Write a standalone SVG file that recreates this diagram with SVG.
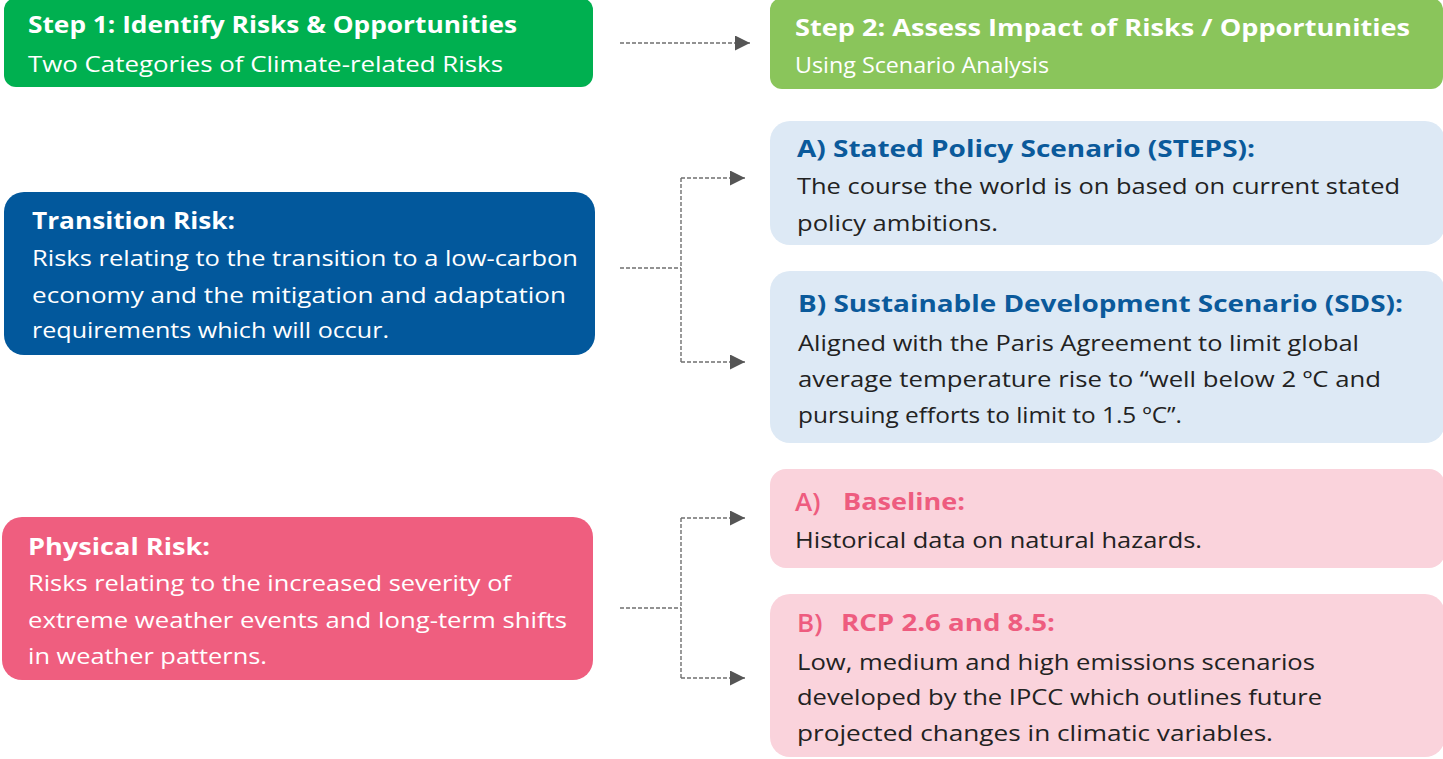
<svg xmlns="http://www.w3.org/2000/svg" width="1443" height="759" viewBox="0 0 1443 759">
<defs>
<style>
.t{font-family:"Open Sans","Liberation Sans",sans-serif;}
.h{font-weight:700;font-size:24px;}
.b{font-weight:400;font-size:22px;}
.w{fill:#ffffff;}
.d{fill:#222222;}
.bl{fill:#0b5a9b;}
.pk{fill:#ee5c7f;}
.c{fill:none;stroke:#6f6f6f;stroke-width:1.4;stroke-dasharray:4 2;}
</style>
<marker id="ar" viewBox="0 0 10 10" refX="10" refY="5" markerWidth="15" markerHeight="15" markerUnits="userSpaceOnUse" orient="auto">
<path d="M0,0 L10,5 L0,10 Z" fill="#555555"/>
</marker>
</defs>
<rect width="1443" height="759" fill="#ffffff"/>

<g id="connectors">
<path class="c" d="M620,43 H750" marker-end="url(#ar)"/>
<path class="c" d="M620,268 H681"/>
<path class="c" d="M681,178 V362"/>
<path class="c" d="M681,178 H745" marker-end="url(#ar)"/>
<path class="c" d="M681,362 H745" marker-end="url(#ar)"/>
<path class="c" d="M620,608 H681"/>
<path class="c" d="M681,518 V678"/>
<path class="c" d="M681,518 H745" marker-end="url(#ar)"/>
<path class="c" d="M681,678 H745" marker-end="url(#ar)"/>
</g>

<g id="step1">
<rect x="4" y="-2" width="589" height="89" rx="12" fill="#00b050"/>
<text class="t h w" x="28" y="33" textLength="489" lengthAdjust="spacingAndGlyphs">Step 1: Identify Risks &amp; Opportunities</text>
<text class="t b w" x="28" y="72" textLength="475" lengthAdjust="spacingAndGlyphs">Two Categories of Climate-related Risks</text>
</g>

<g id="step2">
<rect x="770" y="-2" width="673" height="91" rx="12" fill="#8ac55b"/>
<text class="t h w" x="795" y="36" textLength="615" lengthAdjust="spacingAndGlyphs">Step 2: Assess Impact of Risks / Opportunities</text>
<text class="t b w" x="795" y="73" textLength="254" lengthAdjust="spacingAndGlyphs">Using Scenario Analysis</text>
</g>

<g id="transition">
<rect x="4" y="192" width="591" height="163" rx="20" fill="#02589c"/>
<text class="t h w" x="32" y="229" textLength="203" lengthAdjust="spacingAndGlyphs">Transition Risk:</text>
<text class="t b w" x="32" y="266" textLength="546" lengthAdjust="spacingAndGlyphs">Risks relating to the transition to a low-carbon</text>
<text class="t b w" x="32" y="303" textLength="534" lengthAdjust="spacingAndGlyphs">economy and the mitigation and adaptation</text>
<text class="t b w" x="32" y="338" textLength="357" lengthAdjust="spacingAndGlyphs">requirements which will occur.</text>
</g>

<g id="physical">
<rect x="2" y="517" width="591" height="163" rx="20" fill="#ef5e7f"/>
<text class="t h w" x="28" y="555" textLength="182" lengthAdjust="spacingAndGlyphs">Physical Risk:</text>
<text class="t b w" x="28" y="591" textLength="483" lengthAdjust="spacingAndGlyphs">Risks relating to the increased severity of</text>
<text class="t b w" x="28" y="628" textLength="539" lengthAdjust="spacingAndGlyphs">extreme weather events and long-term shifts</text>
<text class="t b w" x="28" y="664" textLength="239" lengthAdjust="spacingAndGlyphs">in weather patterns.</text>
</g>

<g id="steps">
<rect x="770" y="121" width="675" height="124" rx="20" fill="#dde9f5"/>
<text class="t h bl" x="797" y="157" textLength="458" lengthAdjust="spacingAndGlyphs">A) Stated Policy Scenario (STEPS):</text>
<text class="t b d" x="797" y="194" textLength="603" lengthAdjust="spacingAndGlyphs">The course the world is on based on current stated</text>
<text class="t b d" x="797" y="231" textLength="201" lengthAdjust="spacingAndGlyphs">policy ambitions.</text>
</g>

<g id="sds">
<rect x="770" y="271" width="675" height="172" rx="20" fill="#dde9f5"/>
<text class="t h bl" x="798" y="312" textLength="605" lengthAdjust="spacingAndGlyphs">B) Sustainable Development Scenario (SDS):</text>
<text class="t b d" x="798" y="351" textLength="561" lengthAdjust="spacingAndGlyphs">Aligned with the Paris Agreement to limit global</text>
<text class="t b d" x="798" y="387" textLength="583" lengthAdjust="spacingAndGlyphs">average temperature rise to “well below 2 ºC and</text>
<text class="t b d" x="798" y="423" textLength="384" lengthAdjust="spacingAndGlyphs">pursuing efforts to limit to 1.5 ºC”.</text>
</g>

<g id="baseline">
<rect x="770" y="469" width="675" height="99" rx="16" fill="#fad3dc"/>
<text class="t pk" x="795" y="511" font-size="26" font-weight="600">A)</text>
<text class="t h pk" x="843" y="510" textLength="122" lengthAdjust="spacingAndGlyphs">Baseline:</text>
<text class="t b d" x="795" y="548" textLength="407" lengthAdjust="spacingAndGlyphs">Historical data on natural hazards.</text>
</g>

<g id="rcp">
<rect x="770" y="594" width="675" height="163" rx="20" fill="#fad3dc"/>
<text class="t pk" x="797" y="632" font-size="26" font-weight="600">B)</text>
<text class="t h pk" x="841" y="631" textLength="214" lengthAdjust="spacingAndGlyphs">RCP 2.6 and 8.5:</text>
<text class="t b d" x="797" y="670" textLength="518" lengthAdjust="spacingAndGlyphs">Low, medium and high emissions scenarios</text>
<text class="t b d" x="797" y="705" textLength="525" lengthAdjust="spacingAndGlyphs">developed by the IPCC which outlines future</text>
<text class="t b d" x="797" y="741" textLength="476" lengthAdjust="spacingAndGlyphs">projected changes in climatic variables.</text>
</g>
</svg>
